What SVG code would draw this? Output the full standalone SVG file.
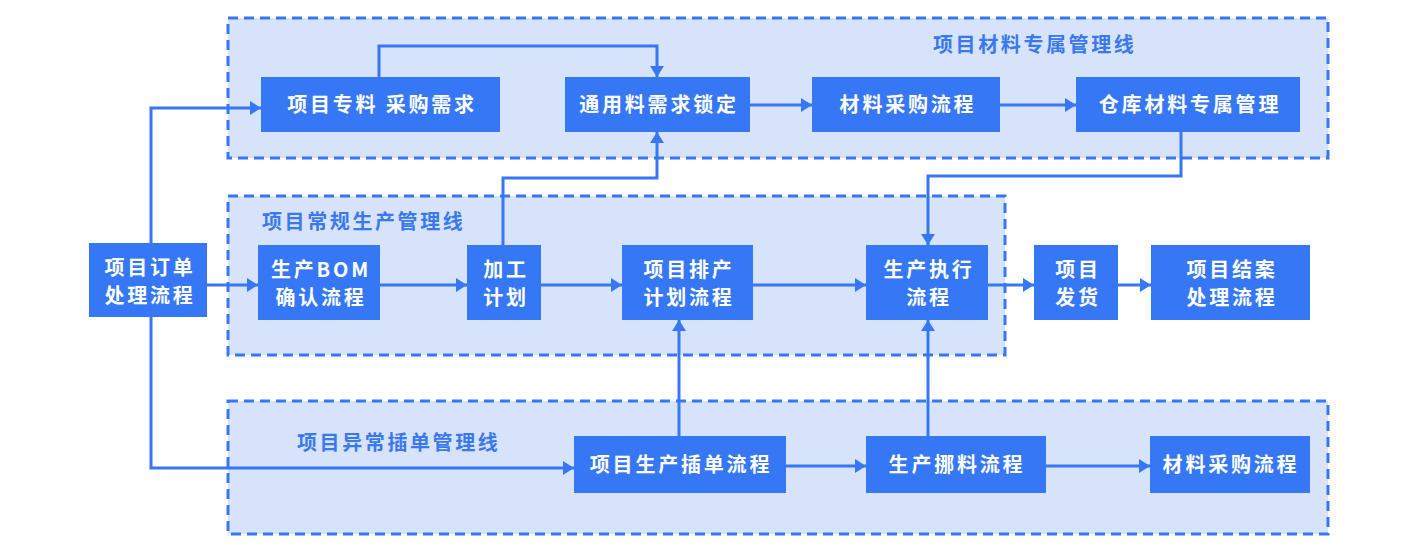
<svg xmlns="http://www.w3.org/2000/svg" width="1420" height="545" viewBox="0 0 1420 545">
<style>
.grp{fill:#d6e3fb;stroke:#3677f5;stroke-width:3;stroke-dasharray:10 6}
.glab{fill:#3a78ee;font-family:"Noto Sans CJK SC","Noto Sans",sans-serif;font-size:20px;font-weight:bold;letter-spacing:2.6px}
.box{fill:#3677f5}
.t{fill:#ffffff;font-family:"Noto Sans CJK SC","Noto Sans",sans-serif;font-size:20px;font-weight:bold;letter-spacing:2.8px;text-anchor:middle}
.c{fill:none;stroke:#3677f5;stroke-width:3}
</style>
<defs>
<marker id="ar" viewBox="0 0 11 14" refX="11" refY="7" markerWidth="11" markerHeight="14" markerUnits="userSpaceOnUse" orient="auto">
<path d="M0,0 L11,7 L0,14 Z" fill="#3677f5"/>
</marker>
</defs>
<g id="lanes">
<rect class="grp" x="228" y="18" width="1100" height="140"/>
<text class="glab" x="933" y="52">项目材料专属管理线</text>
<rect class="grp" x="228" y="196" width="777" height="159"/>
<text class="glab" x="262" y="229">项目常规生产管理线</text>
<rect class="grp" x="228" y="401" width="1100" height="133"/>
<text class="glab" x="297" y="450">项目异常插单管理线</text>
</g>
<g id="connectors">
<path class="c" d="M151,243 V108 H261" marker-end="url(#ar)"/>
<path class="c" d="M151,317 V468 H574" marker-end="url(#ar)"/>
<path class="c" d="M207,285 H258" marker-end="url(#ar)"/>
<path class="c" d="M380,285 H467" marker-end="url(#ar)"/>
<path class="c" d="M541,285 H622" marker-end="url(#ar)"/>
<path class="c" d="M753,285 H866" marker-end="url(#ar)"/>
<path class="c" d="M988,285 H1034" marker-end="url(#ar)"/>
<path class="c" d="M1118,285 H1151" marker-end="url(#ar)"/>
<path class="c" d="M503,245 V178 H657 V132" marker-end="url(#ar)"/>
<path class="c" d="M379,77 V46 H657 V77" marker-end="url(#ar)"/>
<path class="c" d="M750,105 H812" marker-end="url(#ar)"/>
<path class="c" d="M1000,105 H1076" marker-end="url(#ar)"/>
<path class="c" d="M1181,131 V176 H928 V245" marker-end="url(#ar)"/>
<path class="c" d="M679,436 V320" marker-end="url(#ar)"/>
<path class="c" d="M928,436 V320" marker-end="url(#ar)"/>
<path class="c" d="M786,466 H866" marker-end="url(#ar)"/>
<path class="c" d="M1046,466 H1150" marker-end="url(#ar)"/>
</g>
<g id="n_zhuanliao"><rect class="box" x="261" y="77" width="239" height="55"/><text class="t" x="382" y="112">项目专料 采购需求</text></g>
<g id="n_tongyong"><rect class="box" x="565" y="77" width="185" height="55"/><text class="t" x="659" y="112">通用料需求锁定</text></g>
<g id="n_caigou1"><rect class="box" x="812" y="77" width="188" height="55"/><text class="t" x="908" y="112">材料采购流程</text></g>
<g id="n_cangku"><rect class="box" x="1076" y="77" width="224" height="55"/><text class="t" x="1190" y="112">仓库材料专属管理</text></g>
<g id="n_dingdan"><rect class="box" x="89" y="243" width="118" height="74"/><text class="t" x="150" y="275">项目订单</text><text class="t" x="150" y="303">处理流程</text></g>
<g id="n_bom"><rect class="box" x="258" y="245" width="122" height="75"/><text class="t" x="321" y="277">生产BOM</text><text class="t" x="321" y="305">确认流程</text></g>
<g id="n_jiagong"><rect class="box" x="467" y="245" width="74" height="75"/><text class="t" x="506" y="277">加工</text><text class="t" x="506" y="305">计划</text></g>
<g id="n_paichan"><rect class="box" x="622" y="245" width="131" height="75"/><text class="t" x="689" y="277">项目排产</text><text class="t" x="689" y="305">计划流程</text></g>
<g id="n_zhixing"><rect class="box" x="866" y="245" width="122" height="75"/><text class="t" x="929" y="277">生产执行</text><text class="t" x="929" y="305">流程</text></g>
<g id="n_fahuo"><rect class="box" x="1034" y="245" width="84" height="75"/><text class="t" x="1078" y="277">项目</text><text class="t" x="1078" y="305">发货</text></g>
<g id="n_jiean"><rect class="box" x="1151" y="245" width="159" height="75"/><text class="t" x="1232" y="277">项目结案</text><text class="t" x="1232" y="305">处理流程</text></g>
<g id="n_chadan"><rect class="box" x="574" y="436" width="212" height="57"/><text class="t" x="681" y="472">项目生产插单流程</text></g>
<g id="n_nuoliao"><rect class="box" x="866" y="436" width="180" height="57"/><text class="t" x="957" y="472">生产挪料流程</text></g>
<g id="n_caigou2"><rect class="box" x="1150" y="436" width="160" height="57"/><text class="t" x="1231" y="472">材料采购流程</text></g>
</svg>
